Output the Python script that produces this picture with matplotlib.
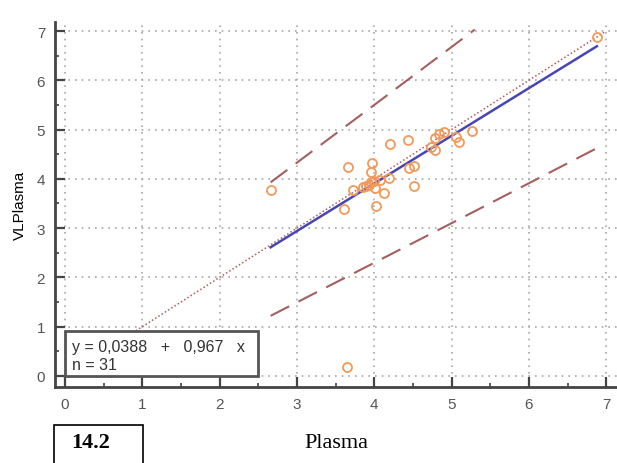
import matplotlib.pyplot as plt
from matplotlib.patches import Rectangle

plt.rcParams['font.family'] = ['Liberation Sans', 'DejaVu Sans']

# Scatter values
plasma = [2.66, 3.61, 3.66, 3.65, 3.73, 3.85, 3.90, 3.96, 3.96, 3.97, 4.01,
          4.02, 4.08, 4.12, 4.19, 4.20, 4.44, 4.45, 4.52, 4.51, 4.73, 4.79,
          4.79, 4.84, 4.90, 5.06, 5.10, 5.27, 6.88, 3.93, 4.00]
vlplasma = [3.77, 3.38, 4.25, 0.18, 3.78, 3.84, 3.86, 3.93, 4.13, 4.33, 3.81,
            3.45, 3.97, 3.71, 4.01, 4.71, 4.79, 4.22, 4.27, 3.85, 4.64, 4.59,
            4.82, 4.92, 4.95, 4.85, 4.75, 4.98, 6.88, 3.88, 3.96]

# Regression fit
intercept = 0.0388
slope = 0.967
fit_x = [min(plasma), max(plasma)]

# Identity line
ident = [0, 7]

# Dashed band lines
upper_x = [2.66, 4.0, 5.3]
upper_y = [3.93, 5.50, 7.03]
lower_x = [2.66, 5.0, 6.90]
lower_y = [1.22, 3.10, 4.64]

fig = plt.figure(figsize=(6.17, 4.64), dpi=100)
ax = fig.add_axes([0.089, 0.164, 0.911, 0.786])

ax.grid(True, color='#a8a8a8', linestyle=(0, (1, 3)), linewidth=1.2)
ax.set_axisbelow(True)

ax.plot(ident, ident, color='#b05a5a', linestyle=(0, (1, 1.5)), linewidth=1.1, zorder=2)
ax.plot(upper_x, upper_y, color='#a65e5e', linestyle=(0, (10, 5)), linewidth=1.5, zorder=2)
ax.plot(lower_x, lower_y, color='#a65e5e', linestyle=(0, (10, 5)), linewidth=1.5, zorder=2)
ax.plot(fit_x, [intercept + slope * v for v in fit_x], color='#4646b4', linewidth=1.8, zorder=3)
ax.plot(plasma, vlplasma, linestyle='none', marker='o', markersize=6.5,
        markerfacecolor='none', markeredgecolor='#f39a5a', markeredgewidth=1.3, zorder=4)

ax.set_xlim(-0.13, 7.14)
ax.set_ylim(-0.223, 7.18)
ax.set_xticks(range(0, 8))
ax.set_yticks(range(0, 8))
ax.set_xticks([i + 0.5 for i in range(7)], minor=True)
ax.set_yticks([i + 0.5 for i in range(7)], minor=True)
ax.tick_params(which='major', direction='in', length=7, width=1.6, color='#444444',
               labelsize=11, labelcolor='#555555', pad=7)
ax.tick_params(which='minor', direction='in', length=3, width=1.2, color='#444444')

for s in ['top', 'right']:
    ax.spines[s].set_visible(False)
for s in ['left', 'bottom']:
    ax.spines[s].set_color('#444444')
    ax.spines[s].set_linewidth(2)

ax.set_ylabel('VLPlasma', fontsize=11, labelpad=7)
ax.set_xlabel('Plasma', fontsize=16, family='Liberation Serif', labelpad=16)

# equation box
ax.add_patch(Rectangle((0, 0), 2.5, 0.91, facecolor='white', edgecolor='#555555',
                       linewidth=2, zorder=5))
ax.text(0.09, 0.59, 'y = 0,0388   +   0,967   x', fontsize=11.5, color='#333333',
        va='center', zorder=6)
ax.text(0.09, 0.24, 'n = 31', fontsize=11.5, color='#333333', va='center', zorder=6)

# panel label box
fig.add_artist(Rectangle((0.0875, -0.01), 0.144, 0.092, transform=fig.transFigure,
                         facecolor='none', edgecolor='black', linewidth=1.2))
fig.text(0.115, 0.045, '14.2', fontsize=16, family='Liberation Serif',
         fontweight='bold', va='center')

fig.savefig('out.png', dpi=100)
